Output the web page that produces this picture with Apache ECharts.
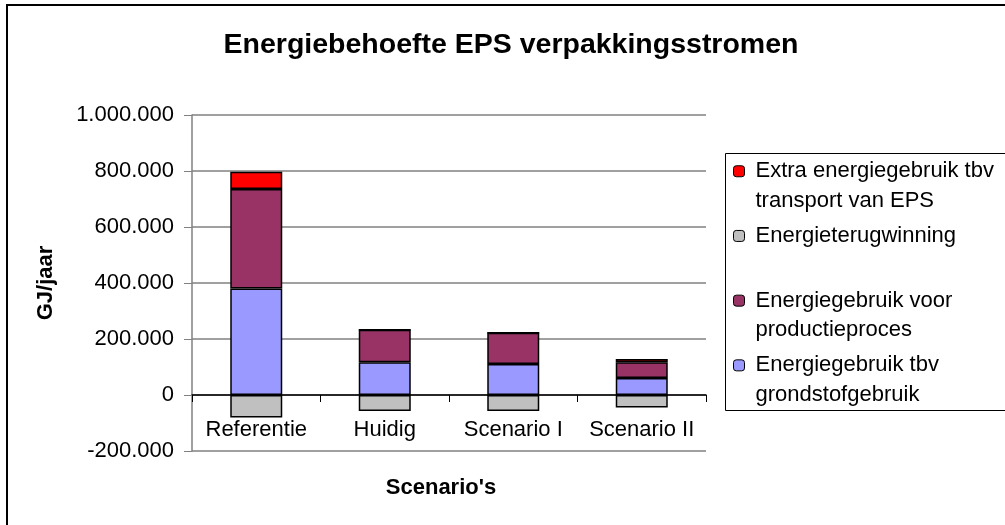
<!DOCTYPE html>
<html>
<head>
<meta charset="utf-8">
<script src="https://cdn.jsdelivr.net/npm/echarts@6/dist/echarts.min.js"></script>
<style>
  html, body { margin: 0; padding: 0; background: #fff; }
  #chart { width: 1005px; height: 525px; }
</style>
</head>
<body>
<div id="chart"></div>
<script>
// categories and stacked values (GJ/jaar)
var scenarios = ['Referentie', 'Huidig', 'Scenario I', 'Scenario II']
var grondstof = [380000, 117000, 111000, 61000]
var productie = [356000, 116000, 111000, 56000]
var transport = [61000, 0, 0, 12000]
var terugwinning = [-80000, -57000, -57000, -45000]
var yTicks = [-200000, 0, 200000, 400000, 600000, 800000, 1000000]

var names = {
  transport: 'Extra energiegebruik tbv\ntransport van EPS',
  terugwinning: 'Energieterugwinning',
  productie: 'Energiegebruik voor\nproductieproces',
  grondstof: 'Energiegebruik tbv\ngrondstofgebruik'
}

var font = 'Liberation Sans, Arial, sans-serif'

function dutch (v) {
  return String(v).replace(/\B(?=(\d{3})+(?!\d))/g, '.')
}

function barSeries (name, data, color) {
  return {
    name: name,
    type: 'bar',
    stack: 'total',
    barWidth: 52,
    data: data,
    animation: false,
    itemStyle: {
      color: color,
      borderColor: '#000',
      borderWidth: 1.5
    }
  }
}

var chart = echarts.init(document.getElementById('chart'))
chart.setOption({
  backgroundColor: '#fff',
  textStyle: { fontFamily: font },
  title: {
    text: 'Energiebehoefte EPS verpakkingsstromen',
    left: 511,
    top: 31,
    padding: 0,
    textAlign: 'center',
    textStyle: { fontFamily: font, fontSize: 28.5, fontWeight: 'bold', color: '#000' }
  },
  grid: { left: 192, right: 299, top: 115, bottom: 74, outerBoundsMode: 'none' },
  legend: {
    orient: 'vertical',
    left: 733,
    top: 127,
    padding: 0,
    itemGap: -23.8,
    itemWidth: 11,
    itemHeight: 11,
    selectedMode: false,
    data: [names.transport, names.terugwinning, names.productie, names.grondstof],
    // blank line above keeps the first text line level with the icon
    formatter: function (n) {
      return n.indexOf('\n') < 0 ? '\n' + n + '\n ' : '\n' + n
    },
    itemStyle: { borderColor: '#000', borderWidth: 1 },
    textStyle: {
      fontFamily: font,
      fontSize: 22,
      lineHeight: 29.5,
      color: '#000',
      padding: [0, 0, 0, 6]
    }
  },
  xAxis: {
    type: 'category',
    data: scenarios,
    name: "Scenario's",
    nameLocation: 'middle',
    nameGap: 26,
    nameTextStyle: { fontFamily: font, fontSize: 22, fontWeight: 'bold', color: '#000', padding: [0, 16, 0, 0] },
    axisLine: { onZero: true, lineStyle: { color: '#000', width: 1.5 } },
    axisTick: { show: true, length: 7, lineStyle: { color: '#000' } },
    // labels sit just under the negative bars, above the plot bottom
    axisLabel: { interval: 0, margin: -32, fontFamily: font, fontSize: 22, color: '#000' }
  },
  yAxis: {
    type: 'value',
    min: yTicks[0],
    max: yTicks[yTicks.length - 1],
    interval: 200000,
    name: 'GJ/jaar',
    nameLocation: 'middle',
    nameRotate: 90,
    nameGap: 135,
    nameTextStyle: { fontFamily: font, fontSize: 22, fontWeight: 'bold', color: '#000' },
    axisLine: { show: true, lineStyle: { color: '#808080', width: 1.5 } },
    axisTick: { show: true, length: 8, lineStyle: { color: '#808080' } },
    axisLabel: {
      margin: 18,
      fontFamily: font,
      fontSize: 22,
      color: '#000',
      formatter: function (v) { return dutch(v) }
    },
    splitLine: { show: true, lineStyle: { color: '#808080', width: 1.5 } }
  },
  graphic: [
    {
      type: 'rect',
      shape: { x: 7, y: 5, width: 1010, height: 530 },
      style: { fill: 'none', stroke: '#000', lineWidth: 2 },
      silent: true
    },
    {
      type: 'rect',
      shape: { x: 725.5, y: 153.5, width: 300, height: 257 },
      style: { fill: 'none', stroke: '#000', lineWidth: 1 },
      silent: true
    }
  ],
  series: [
    barSeries(names.grondstof, grondstof, '#9999FF'),
    barSeries(names.productie, productie, '#993366'),
    barSeries(names.transport, transport, '#FF0000'),
    barSeries(names.terugwinning, terugwinning, '#C0C0C0')
  ]
})
</script>
</body>
</html>
